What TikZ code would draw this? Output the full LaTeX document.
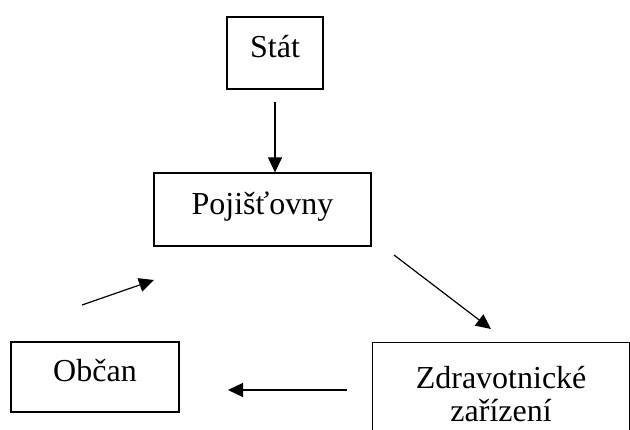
\documentclass[tikz,border=0pt]{standalone}
\usepackage{fontspec}
\setmainfont{Liberation Serif}
\usetikzlibrary{arrows.meta}

\tikzset{
  box/.style={draw, line width=1.2pt, inner sep=0pt, font=\fontsize{32}{33}\selectfont},
  oneline/.style={text height=22pt, text depth=12pt},
  arr/.style={line width=1.2pt, -{Triangle[length=15pt,width=14pt]}}
}

\begin{document}
\begin{tikzpicture}[x=1pt, y=-1pt]
    \useasboundingbox (0,0) rectangle (630,430);
    \clip (0,0) rectangle (630,430);

    \node[box, oneline, minimum width=96pt,  minimum height=72pt] (stat)   at (275,53)    {Stát};
    \node[box, oneline, minimum width=217pt, minimum height=73pt] (pojist) at (262.5,209.5) {Pojišťovny};
    \node[box, oneline, minimum width=168pt, minimum height=70pt] (obcan)  at (95,377)    {Občan};
    \node[box, align=center, anchor=north west, minimum width=257pt, minimum height=103pt] (zdrav) at (372,342) {Zdravotnické\\zařízení};

    \coordinate (obcanOut)  at (82,305);
    \coordinate (pojistIn)  at (154,280);
    \coordinate (pojistOut) at (394,255);
    \coordinate (zdravIn)   at (491,329);
    \coordinate (zdravOut)  at (347,390);
    \coordinate (obcanIn)   at (228,390);

    \draw[arr] ([yshift=-12pt]stat.south) -- (stat.south |- pojist.north);
    \draw[arr] (pojistOut) -- (zdravIn);
    \draw[arr] (zdravOut) -- (obcanIn);
    \draw[arr] (obcanOut) -- (pojistIn);
  \end{tikzpicture}
\end{document}
